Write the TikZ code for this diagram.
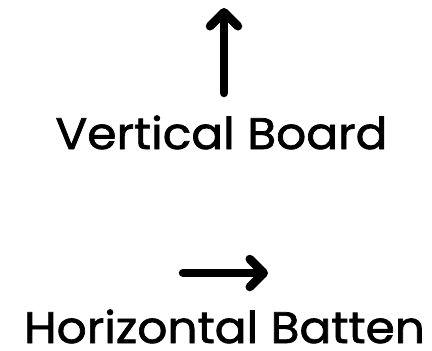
\documentclass[tikz,border=0pt]{standalone}
\usepackage{fontspec}
\setmainfont{Poppins}[FakeBold=1.6,FakeStretch=1.07]
\usetikzlibrary{arrows.meta}

\begin{document}
\begin{tikzpicture}[x=1pt,y=-1pt,
        label/.style={anchor=base,inner sep=0pt,font=\fontsize{44}{44}\selectfont},
        pointer/.style={line width=8.5pt,line cap=round,-{Straight Barb[length=14pt,width=28pt,round]}}]
            \useasboundingbox (0,0) rectangle (432,351);

            \node (vb) at (221.5,149) [label] {Vertical Board};
            \node (hb) at (224.5,343) [label] {Horizontal Batten};

            \coordinate (up0) at (224,93);
            \coordinate (up1) at (224,8);
            \coordinate (rt0) at (183,273);
            \coordinate (rt1) at (268,273);

            \draw[pointer] (up0) -- (up1);
            \draw[pointer] (rt0) -- (rt1);
        \end{tikzpicture}
\end{document}
